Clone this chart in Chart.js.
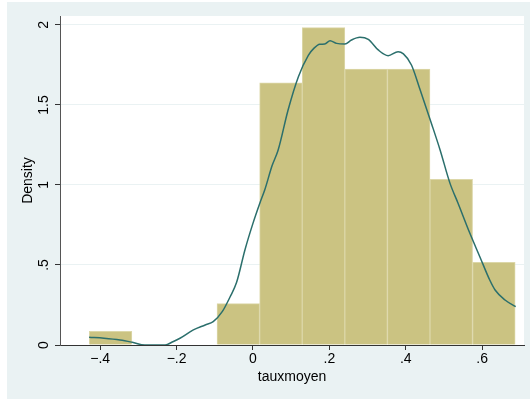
<!DOCTYPE html>
<html>
<head>
<meta charset="utf-8">
<script src="https://cdn.jsdelivr.net/npm/chart.js@4/dist/chart.umd.min.js"></script>
<style>
	html, body { margin:0; padding:0; background:#ffffff; }
	#wrap { position:absolute; left:7px; top:2px; width:523px; height:397px; background:#eaf2f3; }
</style>
</head>
<body>
<div id="wrap"><canvas id="histChart" width="523" height="397"></canvas></div>
<script>
// histogram bins (centre of each bin) and density height
var binCenters = [-0.3728, -0.2613, -0.1498, -0.0383, 0.0733, 0.1848, 0.2963, 0.4078, 0.5193, 0.6308];
var binDensity = [0.086, 0, 0, 0.259, 1.638, 1.983, 1.725, 1.725, 1.035, 0.517];

// kernel density estimate
var kdeX = [-0.429, -0.39, -0.348, -0.316, -0.283, -0.25, -0.23, -0.21, -0.191, -0.156, -0.125, -0.104, -0.08, -0.06, -0.043, -0.021, 0.0, 0.018, 0.031, 0.05, 0.066, 0.092, 0.119, 0.145, 0.16, 0.175, 0.188, 0.202, 0.219, 0.241, 0.258, 0.28, 0.302, 0.328, 0.354, 0.38, 0.394, 0.415, 0.437, 0.468, 0.49, 0.516, 0.537, 0.568, 0.594, 0.62, 0.634, 0.66, 0.688];
var kdeY = [0.048, 0.042, 0.031, 0.017, 0.0, 0.0, 0.0, 0.02, 0.042, 0.094, 0.125, 0.146, 0.21, 0.30, 0.39, 0.594, 0.76, 0.886, 0.97, 1.12, 1.219, 1.469, 1.677, 1.81, 1.855, 1.879, 1.881, 1.902, 1.885, 1.881, 1.906, 1.923, 1.91, 1.844, 1.808, 1.833, 1.819, 1.75, 1.6, 1.38, 1.219, 1.01, 0.886, 0.698, 0.552, 0.406, 0.344, 0.281, 0.24];

// axis ticks
var xTicks = [-0.4, -0.2, 0, 0.2, 0.4, 0.6];
var xTickLabels = ['\u2212.4', '\u2212.2', '0', '.2', '.4', '.6'];
var yTicks = [0, 0.5, 1, 1.5, 2];
var yTickLabels = ['0', '.5', '1', '1.5', '2'];

var barPoints = [];
for(var i in binCenters){
	barPoints.push({x: binCenters[i], y: binDensity[i]});
}
var kdePoints = [];
for(var i in kdeX){
	kdePoints.push({x: kdeX[i], y: kdeY[i]});
}

Chart.defaults.font.family = "'Liberation Sans', Arial, sans-serif";
Chart.defaults.font.size = 14;
Chart.defaults.color = '#000000';

// white plot region
var plotBg = {
	id: 'plotBg',
	beforeDraw: function(chart){
		var a = chart.chartArea;
		chart.ctx.save();
		chart.ctx.fillStyle = '#ffffff';
		chart.ctx.fillRect(a.left, a.top, a.right - a.left, a.bottom - a.top);
		chart.ctx.restore();
	}
};

// y tick labels are written sideways
var yLabels = {
	id: 'yLabels',
	afterDraw: function(chart){
		var ctx = chart.ctx;
		var sy = chart.scales.y;
		ctx.save();
		ctx.fillStyle = '#000000';
		ctx.font = "14px 'Liberation Sans', Arial, sans-serif";
		ctx.textAlign = 'center';
		ctx.textBaseline = 'middle';
		for(var i in yTicks){
			var py = sy.getPixelForValue(yTicks[i]);
			ctx.save();
			ctx.translate(37, py);
			ctx.rotate(-Math.PI / 2);
			ctx.fillText(yTickLabels[i], 0, 0);
			ctx.restore();
		}
		ctx.restore();
	}
};

var ctx = document.getElementById('histChart').getContext('2d');
var chart = new Chart(ctx, {
	type: 'bar',
	data: {
		datasets: [{
			type: 'line',
			data: kdePoints,
			borderColor: '#2b6f6c',
			borderWidth: 1.5,
			pointRadius: 0,
			fill: false,
			cubicInterpolationMode: 'monotone',
			order: 0
		}, {
			type: 'bar',
			data: barPoints,
			backgroundColor: '#cbc382',
			borderColor: '#dcd7a8',
			borderWidth: 1,
			barPercentage: 1,
			categoryPercentage: 1,
			order: 1
		}]
	},
	options: {
		responsive: false,
		animation: false,
		layout: { padding: { top: 14, right: 6, left: 0, bottom: 0 } },
		plugins: {
			legend: { display: false },
			tooltip: { enabled: false }
		},
		scales: {
			x: {
				type: 'linear',
				min: -0.5052,
				max: 0.7097,
				offset: false,
				afterBuildTicks: function(scale){
					scale.ticks = xTicks.map(function(v){ return {value: v}; });
				},
				afterFit: function(scale){ scale.height = 54; },
				ticks: {
					padding: 1,
					maxRotation: 0,
					callback: function(v){ return xTickLabels[xTicks.indexOf(v)]; }
				},
				grid: {
					offset: false,
					drawOnChartArea: false,
					tickLength: 5,
					tickColor: '#333333'
				},
				border: { color: '#333333', width: 1 },
				title: {
					display: true,
					text: 'tauxmoyen',
					padding: { top: 0, bottom: 13 }
				}
			},
			y: {
				type: 'linear',
				min: 0,
				max: 2.056,
				afterBuildTicks: function(scale){
					scale.ticks = yTicks.map(function(v){ return {value: v}; });
				},
				afterFit: function(scale){ scale.width = 53; },
				ticks: { display: false },
				grid: {
					color: '#eaf2f3',
					lineWidth: 1,
					tickLength: 5,
					tickColor: '#333333'
				},
				border: { color: '#555555', width: 1 },
				title: {
					display: true,
					text: 'Density',
					padding: { top: 13, bottom: 0 }
				}
			}
		}
	},
	plugins: [plotBg, yLabels]
});
</script>
</body>
</html>
